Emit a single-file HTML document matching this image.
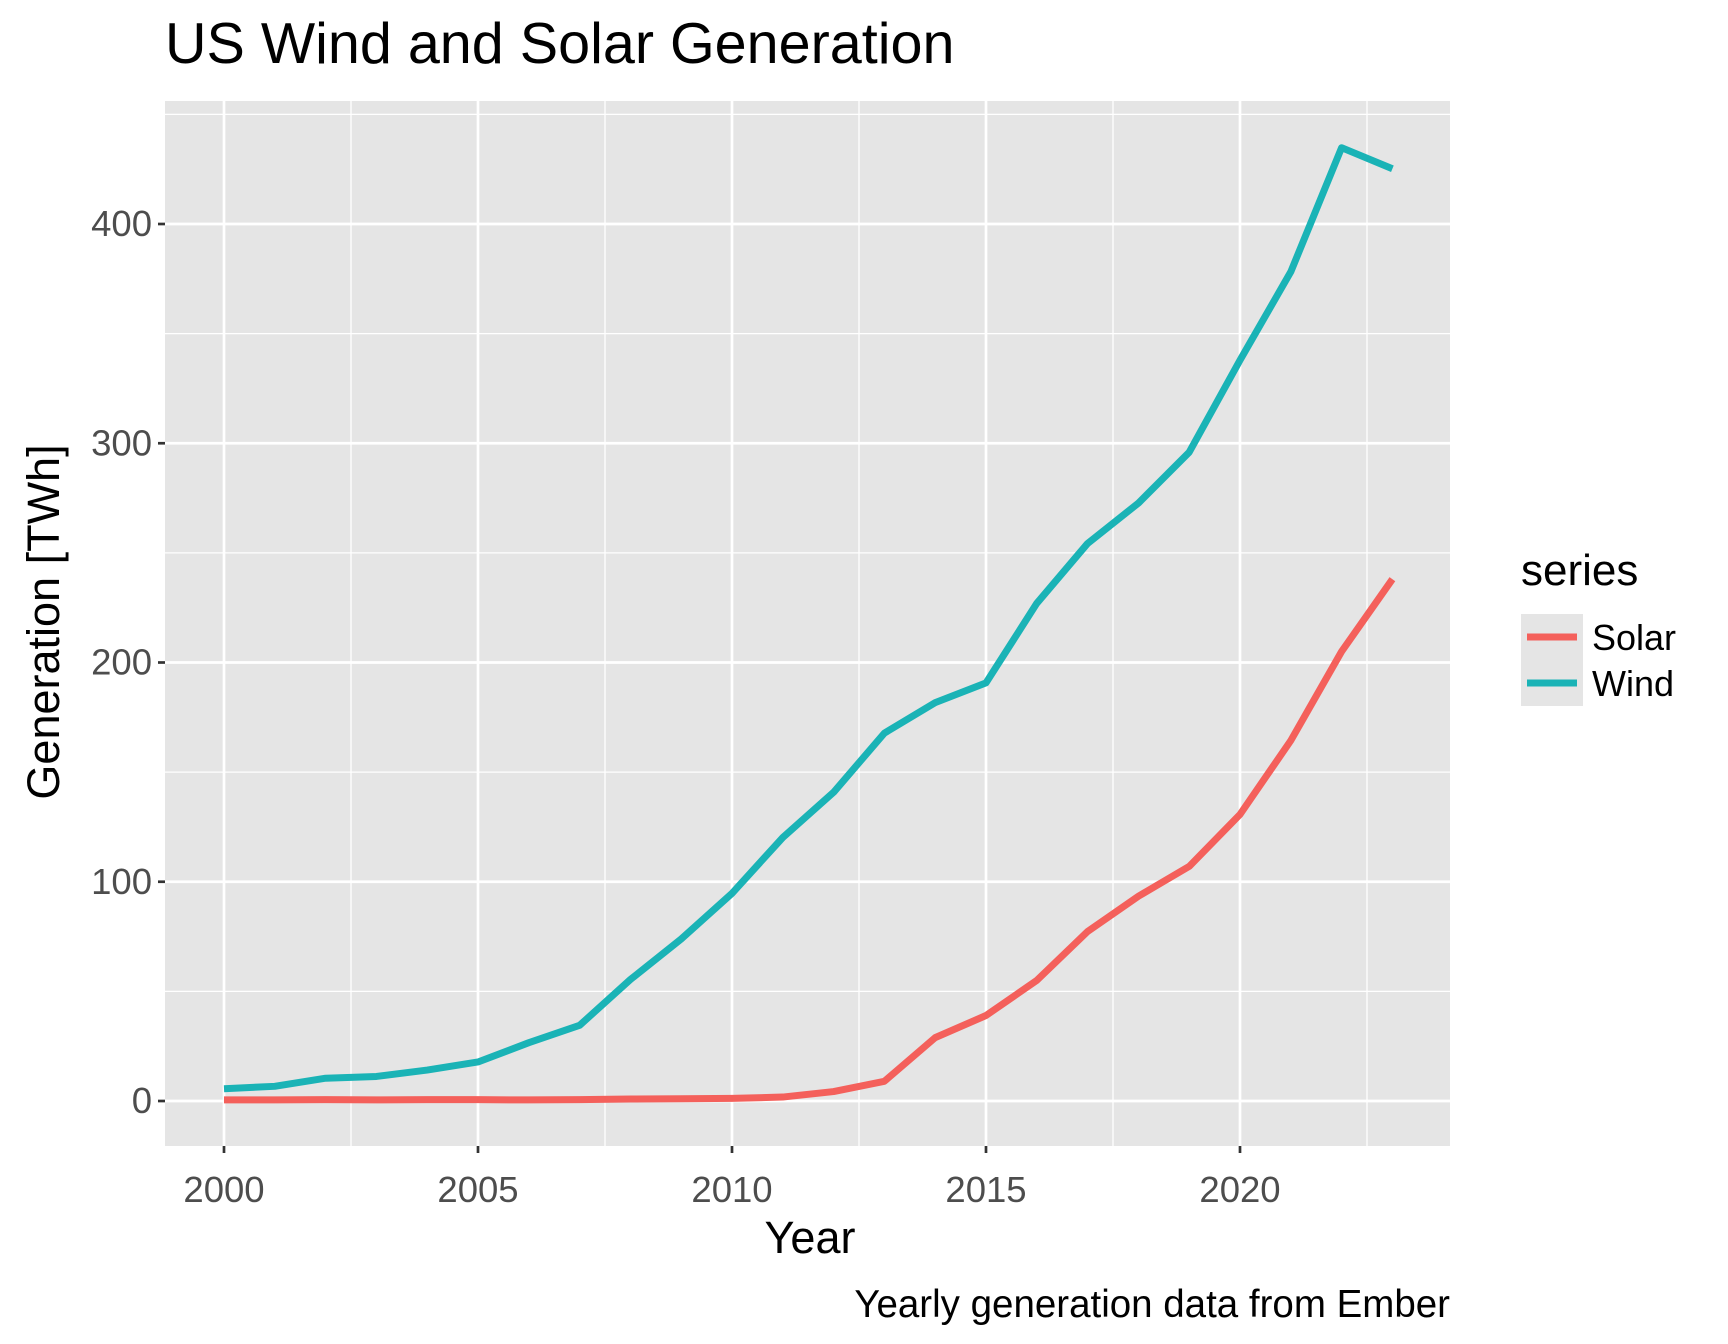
<!DOCTYPE html>
<html><head><meta charset="utf-8"><style>
body{margin:0;background:#fff}
svg{display:block;font-family:"Liberation Sans",Arial,sans-serif}
</style></head><body>
<svg id="chart" width="1728" height="1344" viewBox="0 0 1728 1344">
<rect width="1728" height="1344" fill="#fff"/>
<text x="165" y="63" font-size="57.5" fill="#000">US Wind and Solar Generation</text>
<rect x="165" y="101" width="1285" height="1045" fill="#e5e5e5"/>
<g id="grid"></g><g id="series"></g><g id="axes"></g>
<text x="810" y="1253" font-size="45" text-anchor="middle" fill="#000">Year</text>
<text transform="translate(59,622) rotate(-90)" font-size="45" text-anchor="middle" fill="#000">Generation [TWh]</text>
<text x="1450" y="1317" font-size="38.5" text-anchor="end" fill="#000">Yearly generation data from Ember</text>
<g>
<text x="1521" y="585" font-size="44" fill="#000">series</text>
<rect x="1521" y="614" width="62" height="92" fill="#e5e5e5"/>
<line x1="1527" x2="1577" y1="637" y2="637" stroke="#F4605B" stroke-width="7"/>
<line x1="1527" x2="1577" y1="683" y2="683" stroke="#1AB3B6" stroke-width="7"/>
<text x="1592" y="650" font-size="36" fill="#000">Solar</text>
<text x="1592" y="696" font-size="36" fill="#000">Wind</text>
</g>
</svg>
<script>
const years=[2000,2001,2002,2003,2004,2005,2006,2007,2008,2009,2010,2011,2012,2013,2014,2015,2016,2017,2018,2019,2020,2021,2022,2023];
const windValues=[5.6,6.7,10.4,11.2,14.1,17.8,26.6,34.5,55.4,73.9,94.7,120.2,140.8,167.8,181.7,190.7,227,254.3,272.7,295.9,337.9,378.2,434.8,425.2];
const solarValues=[0.5,0.5,0.6,0.5,0.6,0.6,0.5,0.6,0.9,1,1.2,1.8,4.3,9,28.9,39,55,77.3,93.4,107,130.7,164.4,205,238];
const xTicks=[2000,2005,2010,2015,2020];
const xMinor=[2002.5,2007.5,2012.5,2017.5,2022.5];
const yTicks=[0,100,200,300,400];
const yMinor=[50,150,250,350,450];
const NS="http://www.w3.org/2000/svg";
const X0=165,X1=1450,Y0=101,Y1=1146;
function xs(v){return 224+(v-2000)*50.8;}
function ys(v){return 1101-v*2.1925;}
function mk(tag,attrs,parent){const e=document.createElementNS(NS,tag);for(const k in attrs)e.setAttribute(k,attrs[k]);parent.appendChild(e);return e;}
const grid=document.getElementById('grid'),axes=document.getElementById('axes'),ser=document.getElementById('series');
xMinor.forEach(v=>{const l=mk('line',{x1:xs(v),x2:xs(v),y1:Y0,y2:Y1,stroke:'#fff','stroke-width':1.3},grid);

});
yMinor.forEach(v=>{const l=mk('line',{x1:X0,x2:X1,y1:ys(v),y2:ys(v),stroke:'#fff','stroke-width':1.3},grid);

});
xTicks.forEach(v=>{const l=mk('line',{x1:xs(v),x2:xs(v),y1:Y0,y2:Y1,stroke:'#fff','stroke-width':2.7},grid);


const t=mk('line',{x1:xs(v),x2:xs(v),y1:Y1,y2:Y1+7,stroke:'#333','stroke-width':2.7},axes);


const tx=mk('text',{x:xs(v),y:1202,'font-size':36.5,'text-anchor':'middle',fill:'#4d4d4d'},axes);tx.textContent=v;

});
yTicks.forEach(v=>{const l=mk('line',{x1:X0,x2:X1,y1:ys(v),y2:ys(v),stroke:'#fff','stroke-width':2.7},grid);


const t=mk('line',{x1:X0-7,x2:X0,y1:ys(v),y2:ys(v),stroke:'#333','stroke-width':2.7},axes);


const tx=mk('text',{x:X0-13,y:ys(v)+12,'font-size':36.5,'text-anchor':'end',fill:'#4d4d4d'},axes);tx.textContent=v;

});
function line(vals,color,name){const d=vals.map((v,i)=>(i?'L':'M')+xs(years[i])+','+ys(v)).join(' ');
const p=mk('path',{d:d,fill:'none',stroke:color,'stroke-width':7,'stroke-linejoin':'round'},ser);

}
line(solarValues,'#F4605B','solar-line');
line(windValues,'#1AB3B6','wind-line');
</script>
</body></html>
